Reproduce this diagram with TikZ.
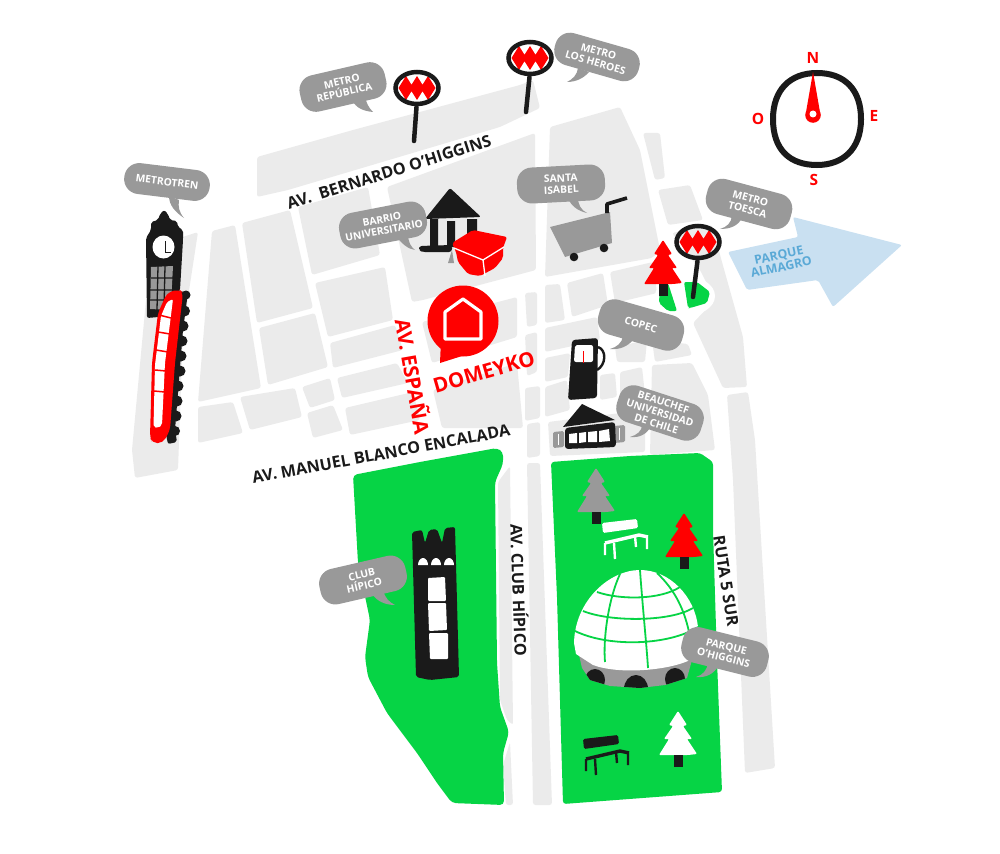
\documentclass[tikz,border=0pt]{standalone}
\usepackage{fontspec}
\setmainfont{Open Sans}
\definecolor{blockgray}{HTML}{EBEBEB}
\definecolor{bubblegray}{HTML}{999999}
\definecolor{parkgreen}{HTML}{06D445}
\definecolor{mapred}{HTML}{FF0000}
\definecolor{mapblack}{HTML}{1A1A1A}
\definecolor{skyblue}{HTML}{C9E0F1}
\definecolor{labelblue}{HTML}{5AA9D6}
\tikzset{
  blockfill/.style={fill=blockgray,rounded corners=2.5pt},
  bubble/.style={fill=bubblegray,text=white,rounded corners=15pt,align=center,inner sep=0pt,
     font=\bfseries\fontsize{10.3}{11.4}\selectfont},
  tailfill/.style={fill=bubblegray},
  roadlabel/.style={text=mapblack,inner sep=0pt,font=\bfseries\fontsize{16.2}{16}\selectfont},
  redlabel/.style={text=mapred,inner sep=0pt,font=\bfseries\fontsize{20.5}{20}\selectfont},
  compasslabel/.style={text=mapred,inner sep=0pt,font=\bfseries\fontsize{15.5}{15}\selectfont},
  pics/fir/.style={code={
    \fill[#1,rounded corners=1pt] (0,0)--(9,14)--(5,15)--(14,28)--(9,28)--(19,43)--(10,44)--(-10,44)--(-19,44)--(-9,28)--(-14,28)--(-5,15)--(-9,14)--cycle;
    \fill[mapblack] (-4,44) rectangle (4.5,56);
  }},
  pics/bench/.style={code={
    \fill[#1,rounded corners=1.5pt] (0,0)--(35,-4)--(36,5)--(1,10)--cycle;
    \draw[#1,line width=3.4pt,line join=round] (3,20)--(37,12)--(46,14);
    \draw[#1,line width=2.4pt] (3,20)--(3,32) (12,20)--(13,36) (33,13)--(34,24) (45,14)--(45,26);
  }},
  pics/metrosign/.style={code={
    \draw[mapblack,line width=4.5pt,line cap=round] (-0.5,19)--(#1);
    \fill[mapred] (-11,-12)--(-3.5,0)--(-11,12)--(-18.5,0)--cycle (0,-12)--(7.5,0)--(0,12)--(-7.5,0)--cycle (11,-12)--(18.5,0)--(11,12)--(3.5,0)--cycle;
    \draw[mapblack,line width=4.5pt] (0,0) ellipse (21.5 and 16);
  }}
}
\begin{document}
\begin{tikzpicture}[x=1pt,y=-1pt]
\useasboundingbox (0,0) rectangle (1000,853);
% ---------- street blocks
\fill[blockfill]
 (257,157)--(353,130)--(520,85)--(533,80)--(540,108)--(500,127)--(389,160)--(288,190)--(257,197)--cycle
 (158,245)--(198,232)--(183,330)--(178,470)--(135,478)--(132,450)--(146,300)--cycle
 (212,231)--(235,225)--(261,388)--(198,402)--cycle
 (242,223)--(290,210)--(313,308)--(257,323)--cycle
 (298,207)--(368,187)--(380,255)--(312,275)--cycle
 (387,187)--(535,133)--(536,270)--(423,300)--(412,302)--cycle
 (315,283)--(385,267)--(393,320)--(328,337)--cycle
 (259,328)--(315,313)--(328,367)--(268,385)--cycle
 (330,343)--(395,325)--(403,350)--(333,368)--cycle
 (198,407)--(233,402)--(243,433)--(198,443)--cycle
 (240,397)--(295,388)--(302,417)--(250,430)--cycle
 (302,387)--(330,378)--(335,400)--(310,408)--cycle
 (337,378)--(397,363)--(408,383)--(342,398)--cycle
 (307,413)--(333,405)--(343,430)--(313,438)--cycle
 (345,408)--(413,392)--(420,420)--(350,435)--cycle
 (422,322)--(517,297)--(517,337)--(432,363)--cycle
 (433,390)--(517,363)--(523,428)--(442,428)--cycle
 (525,293)--(537,292)--(537,325)--(527,327)--cycle
 (525,335)--(537,332)--(537,372)--(527,376)--cycle
 (525,388)--(540,386)--(540,418)--(525,421)--cycle
 (527,424)--(540,422)--(540,456)--(527,458)--cycle
 (550,127)--(620,107)--(640,150)--(660,250)--(652,258)--(545,277)--cycle
 (643,133)--(660,133)--(665,178)--(655,180)--cycle
 (658,190)--(690,185)--(703,220)--(668,225)--cycle
 (672,233)--(712,225)--(722,262)--(743,337)--(747,387)--(723,388)--(693,323)--(715,300)--(700,270)--cycle
 (545,285)--(560,284)--(565,320)--(545,323)--cycle
 (567,283)--(603,273)--(608,305)--(572,317)--cycle
 (610,272)--(653,262)--(657,293)--(615,303)--cycle
 (545,328)--(597,317)--(600,340)--(545,352)--cycle
 (615,347)--(647,340)--(645,362)--(617,362)--cycle
 (652,340)--(688,344)--(692,355)--(655,362)--cycle
 (545,358)--(570,353)--(568,377)--(545,382)--cycle
 (600,375)--(615,373)--(617,397)--(600,400)--cycle
 (620,372)--(642,367)--(645,395)--(620,397)--cycle
 (652,365)--(692,363)--(708,395)--(715,450)--(650,455)--cycle
 (545,387)--(567,380)--(570,410)--(545,417)--cycle
 (548,422)--(645,410)--(645,452)--(550,456)--cycle
 (727,395)--(748,392)--(755,440)--(775,768)--(745,773)--(733,480)--cycle
 (527,463)--(540,463)--(552,805)--(533,805)--cycle
 (498,482)--(510,466)--(513,725)--(507,720)--(500,700)--cycle
 (510,742)--(513,805)--(506,805)--(503,765)--cycle;
% ---------- parks
\fill[parkgreen,rounded corners=4pt] (353,475)--(420,462)--(497,448)--(503,452)--(503,464)--(495,482)--(497,663)--(500,707)--(509,732)--(503,753)--(504,805)--(452,803)--(437,783)--(417,753)--(387,713)--(368,677)--(365,657)--(370,620)--(358,563)--cycle;
\fill[parkgreen,rounded corners=3pt] (551,462)--(630,456)--(700,453)--(713,462)--(713,530)--(717,660)--(722,792)--(563,804)--(557,597)--cycle;
% blue arrow
\fill[skyblue,rounded corners=2pt] (793,217)--(902,245)--(833,307)--(818,280)--(747,290)--(728,252)--(798,237)--cycle;
\node[text=labelblue,rotate=12,align=center,inner sep=0pt,font=\bfseries\fontsize{12.3}{12}\selectfont] (almagro) at (780,261) {PARQUE\\ALMAGRO};
% small park at Toesca
\fill[white] (685,296) ellipse (30 and 20);
\fill[parkgreen,rounded corners=2pt] (660,284)--(668,283)--(677,311)--(668,311)--(659,303)--cycle;
\fill[parkgreen,rounded corners=2pt] (684,282)--(697,282)--(710,292)--(707,303)--(690,308)--(688,308)--cycle;
% ---------- compass
\draw[mapblack,line width=6pt] (817,73) .. controls (845,73) and (861,90) .. (861,119) .. controls (861,150) and (842,165) .. (817,165) .. controls (790,165) and (773,150) .. (773,119) .. controls (773,90) and (790,73) .. (817,73) -- cycle;
\fill[mapred] (813,72)--(820.5,115)--(805.5,115)--cycle (813,115) circle (7.8);
\fill[white] (813,114) circle (3.5);
\node[compasslabel] (north) at (813,58) {N};
\node[compasslabel] (south) at (814,180) {S};
\node[compasslabel] (west) at (758,119) {O};
\node[compasslabel] (east) at (874,116) {E};
% ---------- metro signs
\pic at (417,88) {metrosign={-3,53}};
\pic at (530,58) {metrosign={-4,54}};
\pic at (698,242) {metrosign={-5,55}};
% ---------- trees and benches
\pic at (663,240) {fir=mapred};
\pic at (596,468) {fir=bubblegray};
\pic at (684,513) {fir=mapred};
\pic at (678,711) {fir=white};
\pic at (602,523) {bench=white};
\pic at (583,739) {bench=mapblack};
% ---------- clock tower
\fill[mapblack,rounded corners=2pt] (146,238)--(151,230)--(151,222)--(158,220)--(160,214)--(164,210)--(168,214)--(170,220)--(177,221)--(178,227)--(183,230)--(183,240)--(180,290)--(170,316)--(147,318)--cycle;
\fill[white] (163.5,247) ellipse (11 and 11.5);
\draw[mapblack,line width=.9pt] (165,241)--(165,252)--(171,252);
\fill[bubblegray] (151,267)--(173,266)--(172,285)--(171,310)--(150,309)--cycle;
\draw[mapblack,line width=1.3pt] (158,266)--(157,310) (165,266)--(164,310) (151,278)--(173,278) (150,290)--(172,290) (150,300)--(172,300);
% ---------- train
\fill[mapblack] (186,295) circle (4.5) (184.5,311) circle (5.5) (183,326) circle (5.5) (182,341) circle (5.5) (181,356) circle (5.5) (180,371) circle (5.5) (178,386) circle (5.5) (177,401) circle (5.5) (176,416) circle (5.5) (175,431) circle (5);
\fill[mapblack,rounded corners=2pt] (175,291)--(188,292)--(183,330)--(179,380)--(175,430)--(177,442)--(168,444)--(165,430)--cycle;
\fill[mapred,rounded corners=5pt] (150,437)--(152,363)--(158,313)--(167,293)--(179,289)--(183,293)--(175,363)--(170,430)--(163,443)--(152,443)--cycle;
\fill[white,rounded corners=2pt] (153.5,427)--(155,365)--(161,316)--(167,302)--(173,299)--(165,363)--(162,425)--(158,428)--cycle;
\draw[mapred,line width=1.5pt] (159,315)--(171,318) (158,332)--(170,334) (156,350)--(168,352) (155,370)--(166,371) (154,391)--(165,392);
% ---------- university
\fill[mapblack,rounded corners=2pt] (450,188)--(481,217)--(425,219)--cycle;
\fill[mapblack] (430,219)--(438,219)--(438,247)--(430,247)--cycle (447,221)--(455,221)--(455,247)--(447,247)--cycle (467,219)--(477,219)--(477,235)--(467,237)--cycle;
\fill[mapblack,rounded corners=3pt] (419,246)--(452,245)--(452,252)--(422,252)--(419,250)--cycle;
\fill[bubblegray] (448,263)--(452,250)--(454,263)--cycle;
\fill[mapred,rounded corners=2pt] (452,243)--(473,230)--(507,237)--(503,248)--(503,258)--(495,268)--(480,276)--(468,274)--(458,262)--(456,252)--cycle;
\draw[white,line width=1.3pt,line join=round] (454,248)--(483,260)--(504,247) (483,260)--(485,276);
% ---------- Domeyko pin
\fill[mapred] (463,321) circle (35.5);
\fill[mapred] (440,363)--(441,340)--(462,356)--cycle;
\draw[white,line width=3.2pt,line join=round] (445,312)--(463,299)--(481,312)--(481,339)--(445,339)--cycle;
% ---------- cart
\fill[bubblegray] (550,227)--(610,212)--(612,243)--(565,257)--cycle;
\fill[mapblack] (574,257) circle (4.3) (604,248) circle (4.3);
\draw[mapblack,line width=3.6pt,line join=round] (607,213)--(607,204)--(627,198);
% ---------- fuel pump
\draw[mapblack,line width=2.4pt] (598,347)..controls (607,350) and (606,365)..(597,370);
\fill[mapblack,rounded corners=3pt] (572,340)--(598,338)--(597,398)--(568,400)--cycle;
\fill[white,rounded corners=2pt] (575,345)--(593,345)--(593,362)--(574,362)--cycle;
\draw[mapred,line width=1.3pt] (583.5,351)--(583.5,363);
% ---------- Beauchef building
\fill[bubblegray,rounded corners=1.5pt] (553,432)--(564,431)--(564,447)--(553,448)--cycle (614,426)--(625,425)--(625,442)--(614,443)--cycle;
\draw[white,line width=1.1pt] (558.5,434)--(558.5,445) (619.5,428)--(619.5,440);
\fill[mapblack] (582,404)--(615,420)--(563,427)--cycle;
\fill[mapblack,rounded corners=3pt] (565,428)--(615,422)--(616,447)--(565,449)--cycle;
\fill[white] (569,434)--(577,433)--(577,443)--(569,443)--cycle (579,433)--(586,432)--(586,442)--(579,443)--cycle (588,432)--(597,431)--(597,442)--(588,442)--cycle (599,431)--(609,429)--(610,441)--(599,442)--cycle;
% ---------- Club Hipico tower
\fill[mapblack,rounded corners=2pt] (412,532)--(422,530)--(425,543)--(429,530)--(437,529)--(442,543)--(445,528)--(455,527)--(459,677)--(430,680)--(416,677)--cycle;
\fill[white] (418,565) arc (180:360:5 and 7)--cycle (431,565) arc (180:360:5 and 7)--cycle (444,565) arc (180:360:5 and 7)--cycle;
\fill[white,rounded corners=1pt] (428,578)--(445,577)--(446,601)--(428,601)--cycle (428,603)--(446,603)--(447,630)--(429,631)--cycle (429,633)--(448,633)--(448,659)--(430,659)--cycle;
% ---------- igloo
\fill[bubblegray] (579,655)--(582,668)--(590,680)--(610,686)--(640,688)--(665,685)--(687,678)--(692,660)--(690,650)--cycle;
\begin{scope}
\clip (579,655)--(582,668)--(590,680)--(610,686)--(640,688)--(665,685)--(687,678)--(692,660)--(690,650)--cycle;
\fill[mapblack] (595,680) ellipse (10 and 11) (636,689) ellipse (12 and 14) (675,679) ellipse (10 and 11);
\end{scope}
\fill[white] (574,643) .. controls (575,600) and (610,570) .. (640,570) .. controls (670,570) and (695,597) .. (698,627) -- (690,660) .. controls (670,670) and (620,675) .. (593,665) -- (576,654) -- cycle;
\begin{scope}[parkgreen,line width=1.8pt]
\draw (597,592) .. controls (620,600) and (660,600) .. (680,587);
\draw (583,611) .. controls (610,622) and (670,622) .. (693,608);
\draw (575,631) .. controls (610,648) and (670,645) .. (698,627);
\draw (640,570) .. controls (642,600) and (647,650) .. (648,668);
\draw (620,574) .. controls (608,600) and (603,640) .. (605,662);
\draw (657,573) .. controls (675,590) and (685,610) .. (690,637);
\end{scope}
% ---------- road labels
\node[roadlabel,rotate=17.5] (ohiggins) at (389,172) {AV.\ \ BERNARDO O’HIGGINS};
\node[roadlabel,rotate=10.5] (blanco) at (381,454) {AV. MANUEL BLANCO ENCALADA};
\node[roadlabel,rotate=-88] (clubhipico) at (520,590) {AV. CLUB HÍPICO};
\node[roadlabel,rotate=-81] (ruta) at (726,581) {RUTA 5 SUR};
\node[redlabel,rotate=-80] (espana) at (414,376) {AV. ESPAÑA};
\node[redlabel,rotate=16] (domeyko) at (484,372) {DOMEYKO};
% ---------- bubbles
\fill[tailfill] (352,100)..controls (356,108) and (363,111)..(373,112)..controls (369,108) and (366,103)..(365,96)--cycle;
\node[bubble,rotate=13,minimum width=87pt,minimum height=37pt] (brepublica) at (343,87) {METRO\\REPÚBLICA};
\fill[tailfill] (578,68)..controls (577,75) and (573,79)..(567,82)..controls (576,82) and (584,78)..(589,72)--cycle;
\node[bubble,rotate=-16,minimum width=87pt,minimum height=33pt] (bheroes) at (597,57) {METRO\\LOS HEROES};
\fill[tailfill] (169,196)..controls (169,205) and (175,212)..(184,218)..controls (179,212) and (178,207)..(179,200)--cycle;
\node[bubble,rotate=-7,minimum width=86pt,minimum height=31pt] (bmetrotren) at (167,182) {METROTREN};
\fill[tailfill] (396,236)..controls (402,244) and (408,249)..(415,250)..controls (411,247) and (408,242)..(408,234)--cycle;
\node[bubble,rotate=11,minimum width=88pt,minimum height=36pt] (bbarrio) at (383,225) {BARRIO\\UNIVERSITARIO};
\fill[tailfill] (568,198)..controls (571,206) and (578,211)..(587,213)..controls (581,210) and (578,205)..(578,197)--cycle;
\node[bubble,rotate=3,minimum width=88pt,minimum height=36pt] (bsanta) at (561,184) {SANTA\\ISABEL};
\fill[tailfill] (732,216)..controls (731,223) and (727,227)..(720,229)..controls (730,229) and (738,226)..(742,218)--cycle;
\node[bubble,rotate=-15,minimum width=87pt,minimum height=36pt] (btoesca) at (749,204) {METRO\\TOESCA};
\fill[tailfill] (623,336)..controls (622,343) and (617,347)..(610,349)..controls (620,350) and (628,346)..(633,340)--cycle;
\node[bubble,rotate=-16,minimum width=87pt,minimum height=36pt] (bcopec) at (641,325) {COPEC};
\fill[tailfill] (642,425)..controls (642,431) and (637,435)..(630,437)..controls (640,438) and (647,434)..(651,426)--cycle;
\node[bubble,rotate=-18,minimum width=88pt,minimum height=38pt] (bbeauchef) at (660,413) {BEAUCHEF\\UNIVERSIDAD\\DE CHILE};
\fill[tailfill] (373,595)..controls (377,601) and (385,605)..(395,605)..controls (389,602) and (385,598)..(383,590)--cycle;
\node[bubble,rotate=13,minimum width=88pt,minimum height=36pt] (bclub) at (363,580) {CLUB\\HÍPICO};
\fill[tailfill] (708,663)..controls (707,670) and (703,675)..(696,677)..controls (706,678) and (714,674)..(719,665)--cycle;
\node[bubble,rotate=-14,minimum width=88pt,minimum height=36pt] (bparque) at (725,652) {PARQUE\\O’HIGGINS};
\end{tikzpicture}
\end{document}
